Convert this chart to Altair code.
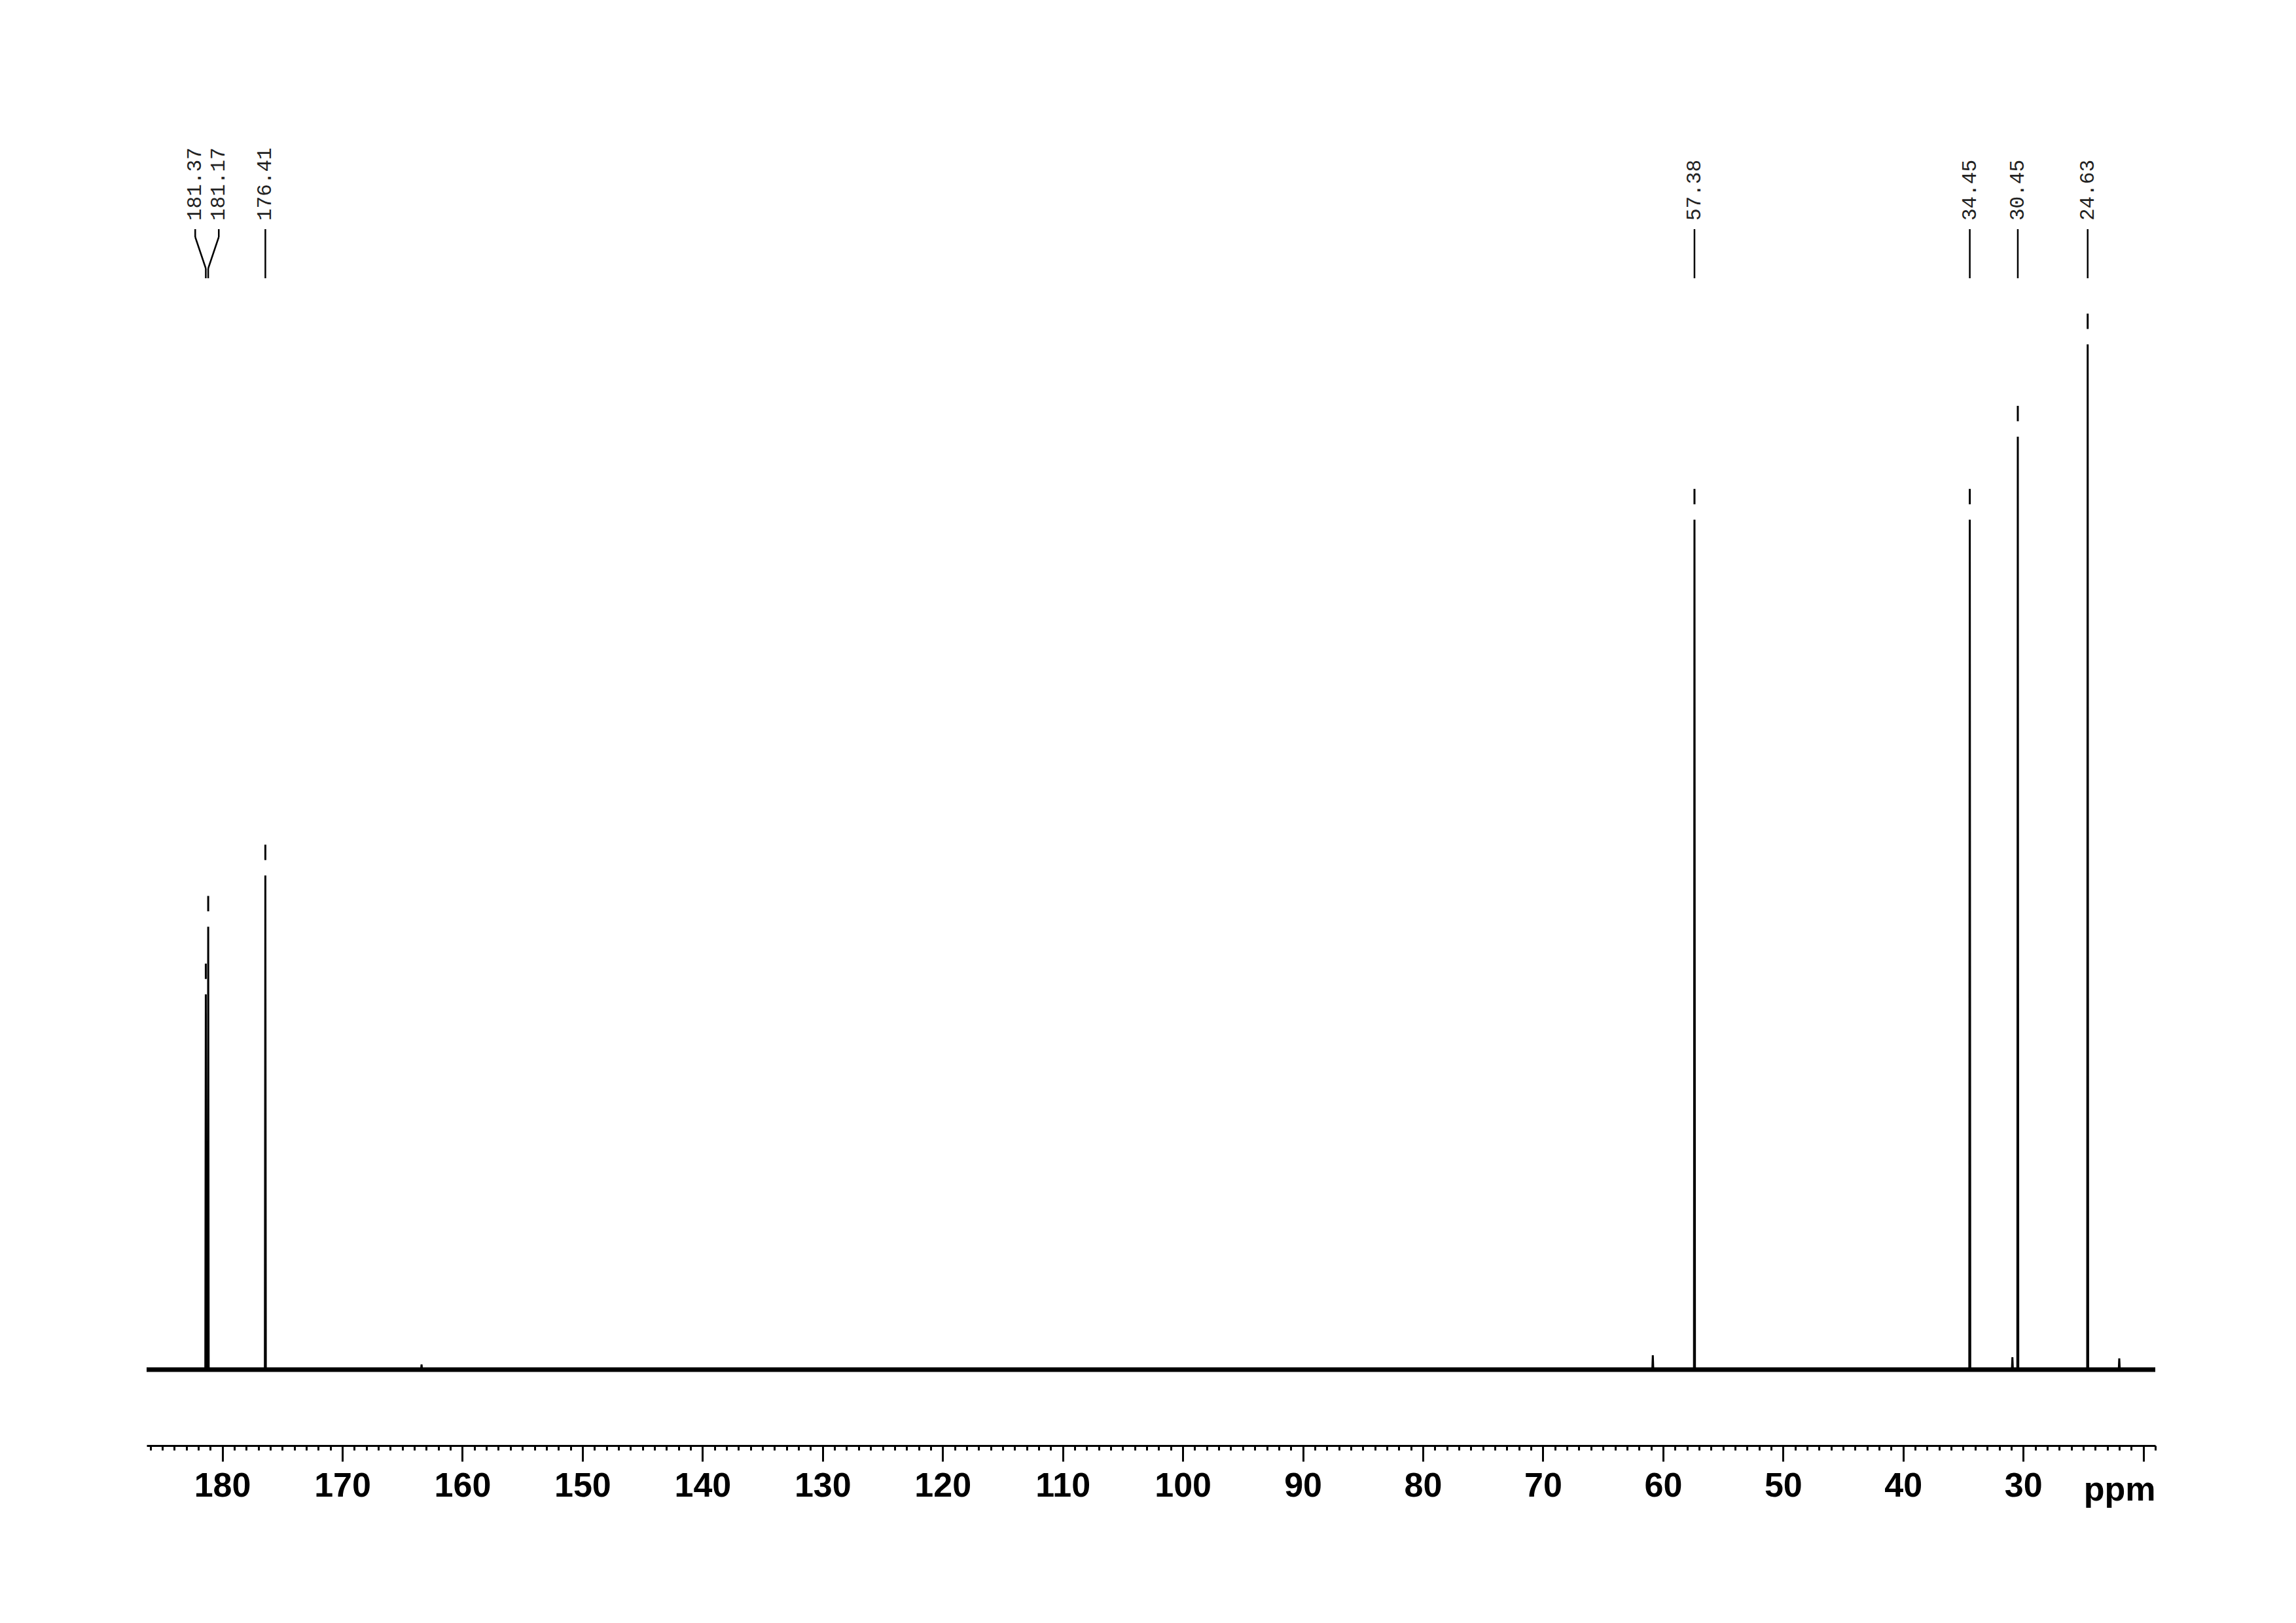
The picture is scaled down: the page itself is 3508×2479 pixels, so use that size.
import altair as alt
import pandas as pd

# ---- data ----
peak_ppm = [181.37, 181.17, 176.41, 57.38, 34.45, 30.45, 24.63]
peak_height = [36.6, 43.2, 48.2, 82.9, 82.9, 91.0, 100.0]   # relative intensity (24.63 = 100)
peak_label = ["181.37", "181.17", "176.41", "57.38", "34.45", "30.45", "24.63"]

# small baseline features visible in the spectrum
minor_ppm = [163.4, 60.85, 30.9, 22.0]
minor_height = [0.5, 1.4, 1.2, 1.1]

ppm_left = 186.3
ppm_right = 19.0

# ---- layout ----
W, H = 3069, 2108
PX_PER_PPM = W / (ppm_left - ppm_right)

x_scale = alt.Scale(domain=[ppm_left, ppm_right], nice=False, zero=False)
y_scale = alt.Scale(domain=[-7.41, 127.2], nice=False, zero=False)

axis = alt.Axis(
    values=list(range(19, 187)),
    tickSize={"condition": {"test": "datum.value % 10 === 0", "value": 24}, "value": 7},
    tickWidth=3, tickColor="black",
    domainWidth=3, domainColor="black",
    labelExpr="(datum.value % 10 === 0 && datum.value >= 30) ? datum.label : ''",
    labelFont="Liberation Sans", labelFontWeight="bold", labelFontSize=52,
    labelColor="black", labelPadding=12, labelOverlap=False, labelFlush=False,
    grid=False,
    title="ppm", titleFont="Liberation Sans", titleFontWeight="bold", titleFontSize=52,
    titleColor="black", titleX=W, titleY=83, titleAlign="right", titleBaseline="alphabetic",
    titleAnchor="end",
)


def X(field):
    return alt.X(field, type="quantitative", scale=x_scale, axis=axis)


def Y(field):
    return alt.Y(field, type="quantitative", scale=y_scale, axis=None)


# spectrum as a stick/line trace
xs, ys = [ppm_left], [0.0]
for p, h in zip(peak_ppm + minor_ppm, peak_height + minor_height):
    xs += [p + 0.04, p, p - 0.04]
    ys += [0.0, h, 0.0]
xs.append(ppm_right)
ys.append(0.0)
spec_df = pd.DataFrame({"ppm": xs, "int": ys}).sort_values("ppm")

# label positions: spread labels that are too close
min_sep = 36 / PX_PER_PPM
order = sorted(range(len(peak_ppm)), key=lambda i: -peak_ppm[i])
clusters = []
for i in order:
    if clusters and peak_ppm[clusters[-1][-1]] - peak_ppm[i] < min_sep:
        clusters[-1].append(i)
    else:
        clusters.append([i])
label_x = [0.0] * len(peak_ppm)
for c in clusters:
    center = sum(peak_ppm[i] for i in c) / len(c)
    n = len(c)
    for k, i in enumerate(c):
        label_x[i] = center + ((n - 1) / 2 - k) * min_sep

peaks_df = pd.DataFrame({
    "ppm": peak_ppm, "h": peak_height, "label": peak_label, "lx": label_x,
    "d1": [h + 1.5 for h in peak_height], "d2": [h + 3.0 for h in peak_height],
})

band_df = pd.DataFrame({"a": [ppm_left], "b": [ppm_right], "y": [0.0]})

band = alt.Chart(band_df).mark_rule(color="black", strokeWidth=7).encode(
    x=X("a"), x2="b", y=Y("y"))

spectrum = alt.Chart(spec_df).mark_line(color="black", strokeWidth=3).encode(
    x=X("ppm"), y=Y("int"))

dashes = alt.Chart(peaks_df).mark_rule(color="black", strokeWidth=3).encode(
    x=X("ppm"), y=Y("d1"), y2="d2")

labels = alt.Chart(peaks_df).mark_text(
    angle=270, align="left", baseline="middle",
    font="Liberation Mono", fontSize=31, color="#222222").encode(
    x=X("lx"), y=alt.value(237), text="label:N")

conn1 = alt.Chart(peaks_df).mark_rule(color="black", strokeWidth=2.5).encode(
    x=X("lx"), y=alt.value(250), y2=alt.value(262))
conn2 = alt.Chart(peaks_df).mark_rule(color="black", strokeWidth=2.5).encode(
    x=X("lx"), x2="ppm", y=alt.value(262), y2=alt.value(310))
conn3 = alt.Chart(peaks_df).mark_rule(color="black", strokeWidth=2.5).encode(
    x=X("ppm"), y=alt.value(310), y2=alt.value(325))

chart = alt.layer(band, spectrum, dashes, labels, conn1, conn2, conn3).properties(
    width=W, height=H,
    padding={"left": 216, "top": 92, "right": 199, "bottom": 250},
    autosize=alt.AutoSizeParams(type="none"),
).configure_view(stroke=None)

chart.save("out.html", embed_options={"renderer": "svg", "actions": False})
